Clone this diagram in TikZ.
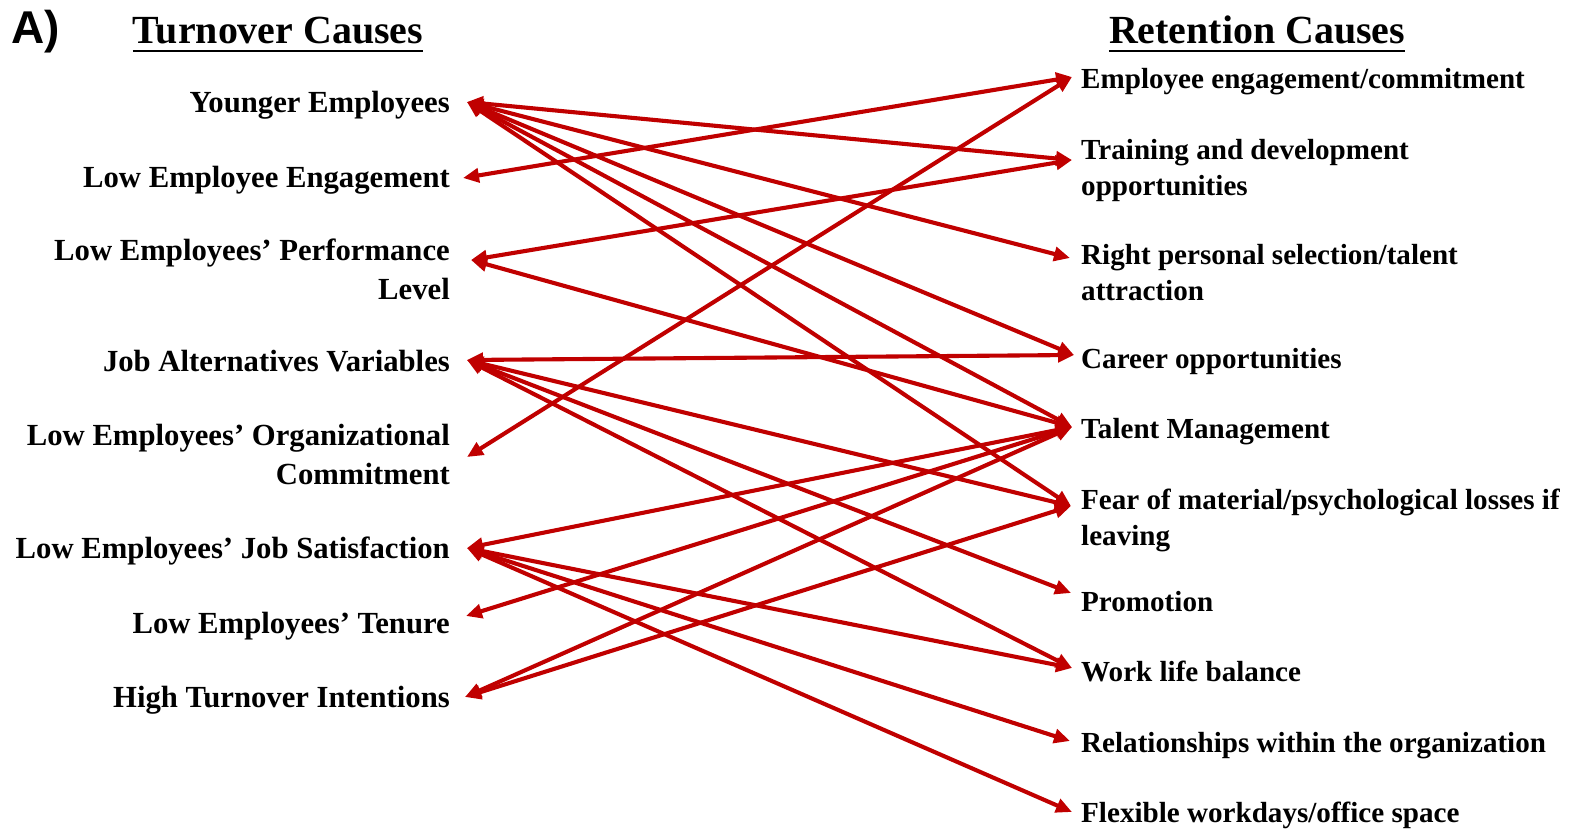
\documentclass[tikz,border=0pt]{standalone}
\usepackage{fontspec}
\setmainfont{Liberation Serif}
\newfontfamily\panelfont{Liberation Sans}
\usetikzlibrary{arrows.meta}
\definecolor{linkred}{HTML}{C00000}

\begin{document}
\begin{tikzpicture}[x=1pt,y=-1pt,
  cause/.style={anchor=base east, align=right, inner sep=0pt,
    font=\bfseries\fontsize{30.7}{38.2}\selectfont},
  effect/.style={anchor=base west, align=left, inner sep=0pt,
    font=\bfseries\fontsize{29.1}{35.2}\selectfont},
  heading/.style={anchor=base, inner sep=0pt,
    font=\bfseries\fontsize{39.9}{45}\selectfont},
  rule/.style={line width=2.6pt},
  link/.style={draw=linkred, line width=4.1pt,
    {Triangle[length=16pt,width=14pt]}-{Triangle[length=16pt,width=14pt]}}
]
\useasboundingbox (0,0) rectangle (1578,829);

% panel letter and column headings
\node[anchor=base west, inner sep=0pt, font=\panelfont\bfseries\fontsize{46}{50}\selectfont] (panel) at (11,44) {A)};
\node[heading] (hturn) at (278,44) {Turnover Causes};
\node[heading] (hret) at (1257,44) {Retention Causes};
\draw[rule] ([yshift=-7pt]hturn.base west) -- ([yshift=-7pt]hturn.base east);
\draw[rule] ([yshift=-7pt]hret.base west) -- ([yshift=-7pt]hret.base east);

% turnover causes (multi-line nodes sit on their last line)
\node[cause] (c1) at (450,113) {Younger Employees};
\node[cause] (c2) at (450,187) {Low Employee Engagement};
\node[cause] (c3) at (450,299) {Low Employees’ Performance\\Level};
\node[cause] (c4) at (450,371) {Job Alternatives Variables};
\node[cause] (c5) at (450,484) {Low Employees’ Organizational\\Commitment};
\node[cause] (c6) at (450,558) {Low Employees’ Job Satisfaction};
\node[cause] (c7) at (450,633) {Low Employees’ Tenure};
\node[cause] (c8) at (450,707) {High Turnover Intentions};

% retention causes
\node[effect] (e1) at (1081,89) {Employee engagement/commitment};
\node[effect] (e2) at (1081,195) {Training and development\\opportunities};
\node[effect] (e3) at (1081,300) {Right personal selection/talent\\attraction};
\node[effect] (e4) at (1081,368) {Career opportunities};
\node[effect] (e5) at (1081,438) {Talent Management};
\node[effect] (e6) at (1081,545) {Fear of material/psychological losses if\\leaving};
\node[effect] (e7) at (1081,611) {Promotion};
\node[effect] (e8) at (1081,681) {Work life balance};
\node[effect] (e9) at (1081,752) {Relationships within the organization};
\node[effect] (e10) at (1081,822) {Flexible workdays/office space};

% arrow ports
\coordinate (l1) at (467,102);
\coordinate (l2) at (463,178);
\coordinate (l3) at (471,260);
\coordinate (l4) at (467,360);
\coordinate (l5) at (467,457);
\coordinate (l6) at (467,548);
\coordinate (l7) at (466,616);
\coordinate (l8) at (465,697);
\coordinate (r1) at (1072,77);
\coordinate (r2) at (1072,160);
\coordinate (r3) at (1070,258);
\coordinate (r4) at (1074,355);
\coordinate (r5) at (1072,427);
\coordinate (r6) at (1071,506);
\coordinate (r7) at (1071,593);
\coordinate (r8) at (1072,668);
\coordinate (r9) at (1070,741);
\coordinate (r10) at (1072,812);

% links between causes
\foreach \a/\b in {l1/r2,l1/r3,l1/r4,l1/r5,l1/r6,
                   l2/r1,l3/r2,l3/r5,
                   l4/r4,l4/r6,l4/r7,l4/r8,
                   l5/r1,
                   l6/r5,l6/r8,l6/r9,l6/r10,
                   l7/r5,l8/r5,l8/r6}
  \draw[link] (\a) -- (\b);
\end{tikzpicture}
\end{document}
